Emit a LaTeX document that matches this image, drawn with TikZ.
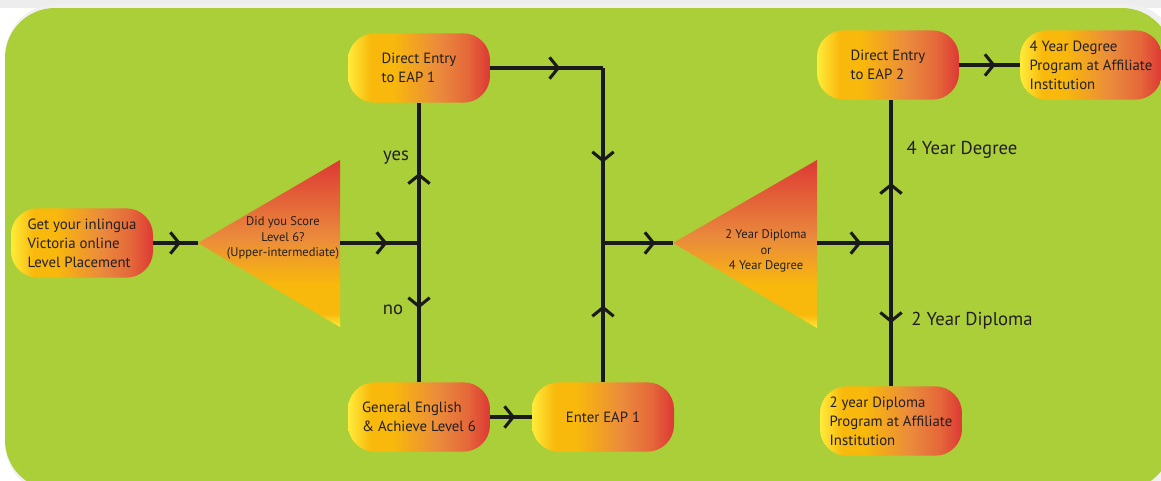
\documentclass[tikz,border=0pt]{standalone}
\usepackage{fontspec}
\setmainfont{PT Sans}
\usetikzlibrary{arrows.meta,decorations.markings}
\definecolor{bggreen}{HTML}{ABCF38}
\definecolor{byel}{HTML}{FFEC3A}
\definecolor{gold}{HTML}{F8B80C}
\definecolor{orng}{HTML}{EA8A3C}
\definecolor{orng2}{HTML}{E5683A}
\definecolor{redd}{HTML}{DD3934}
\definecolor{txt}{HTML}{231F20}
\definecolor{ln}{HTML}{1A1A1A}
\definecolor{brwn}{HTML}{7A4A1E}
\pgfdeclarehorizontalshading{boxshade}{100bp}{color(0bp)=(byel); color(25bp)=(byel); color(33bp)=(gold); color(41bp)=(gold); color(57bp)=(orng); color(67bp)=(orng2); color(75bp)=(redd); color(100bp)=(redd)}
\pgfdeclareverticalshading{trishade}{100bp}{color(0bp)=(byel); color(25bp)=(byel); color(29bp)=(gold); color(38bp)=(gold); color(52bp)=(orng); color(75bp)=(redd); color(100bp)=(redd)}
\tikzset{
  box/.style={rounded corners=20pt, shading=boxshade, minimum width=106.5pt, minimum height=52pt,
    align=left, font=\fontsize{11.1}{14.2}\selectfont, text=txt, inner sep=0pt},
  tritext/.style={align=center, font=\fontsize{9.4}{11.6}\selectfont, text=txt},
  lbl/.style={font=\fontsize{14}{16}\selectfont, text=txt},
  biglbl/.style={font=\fontsize{14}{16}\selectfont, text=txt},
  conn/.style={line width=2.3pt, draw=ln},
  mk/.style={postaction={decorate,decoration={markings,mark=at position #1 with {\arrow{Straight Barb[length=6.5pt,width=16pt]}}}}},
}
\begin{document}
\begin{tikzpicture}[x=0.75pt,y=-0.75pt]
\clip (0,0) rectangle (1161,480);
\fill[white] (0,0) rectangle (1161,480);
\fill[black!7] (0,0) rectangle (1161,8);
\fill[brwn] (1090,420) rectangle (1161,480);
\fill[black!6, rounded corners=39pt] (5,4) rectangle (1178,495);
\fill[bggreen, rounded corners=37.5pt] (5,8) rectangle (1172,490);

% boxes
\node[box] (get) at (82,243) {Get your inlingua\\Victoria online\\Level Placement};
\node[box] (eap1) at (419,68) {Direct Entry\\to EAP 1};
\node[box] (gen) at (419,417) {General English\\\& Achieve Level 6};
\node[box] (enter) at (603,417) {Enter EAP 1};
\node[box] (eap2) at (888,65) {Direct Entry\\to EAP 2};
\node[box] (deg4) at (1091,65) {4 Year Degree\\Program at Affiliate\\Institution};
\node[box] (dip2) at (891,421) {2 year Diploma\\Program at Affiliate\\Institution};

% triangles
\coordinate (t1apex) at (198,243);
\coordinate (t1top) at (340,160);
\coordinate (t1bot) at (340,327);
\coordinate (t1out) at (340,243);
\path[shading=trishade] (t1apex) -- (t1top) -- (t1bot) -- cycle;
\node[tritext] (t1text) at (283,238) {Did you Score\\Level 6?\\(Upper-intermediate)};

\coordinate (t2apex) at (673,243);
\coordinate (t2top) at (817,160);
\coordinate (t2bot) at (817,328);
\coordinate (t2out) at (817,243);
\path[shading=trishade] (t2apex) -- (t2top) -- (t2bot) -- cycle;
\node[tritext] (t2text) at (766,251) {2 Year Diploma\\or\\4 Year Degree};

% junctions
\coordinate (j1) at (419,243);
\coordinate (c1) at (603,68);
\coordinate (j2) at (603,243);
\coordinate (j3) at (891,243);

% connectors
\draw[conn, mk=0.62] (get.east) -- (t1apex);
\draw[conn, mk=0.6] (t1out) -- (j1);
\draw[conn, mk=0.5] (j1) -- (eap1.south);
\draw[conn, mk=0.47] (j1) -- (gen.north);
\draw[conn, mk=0.62] (eap1.east) -- (c1);
\draw[conn, mk=0.54] (c1) -- (j2);
\draw[conn, mk=0.55] (enter.north) -- (j2);
\draw[conn, mk=0.6] (gen.east) -- (enter.west);
\draw[conn, mk=0.75] (j2) -- (t2apex);
\draw[conn, mk=0.6] (t2out) -- (j3);
\draw[conn, mk=0.42] (j3) -- (j3 |- eap2.south);
\draw[conn, mk=0.56] (j3) -- (dip2.north);
\draw[conn, mk=0.6] (eap2.east) -- (deg4.west);

% labels
\node[lbl] (yes) at (396,158) {yes};
\node[lbl] (no) at (393,310) {no};
\node[biglbl] (l4) at (962,150) {4 Year Degree};
\node[biglbl] (l2) at (972,321) {2 Year Diploma};
\end{tikzpicture}
\end{document}
